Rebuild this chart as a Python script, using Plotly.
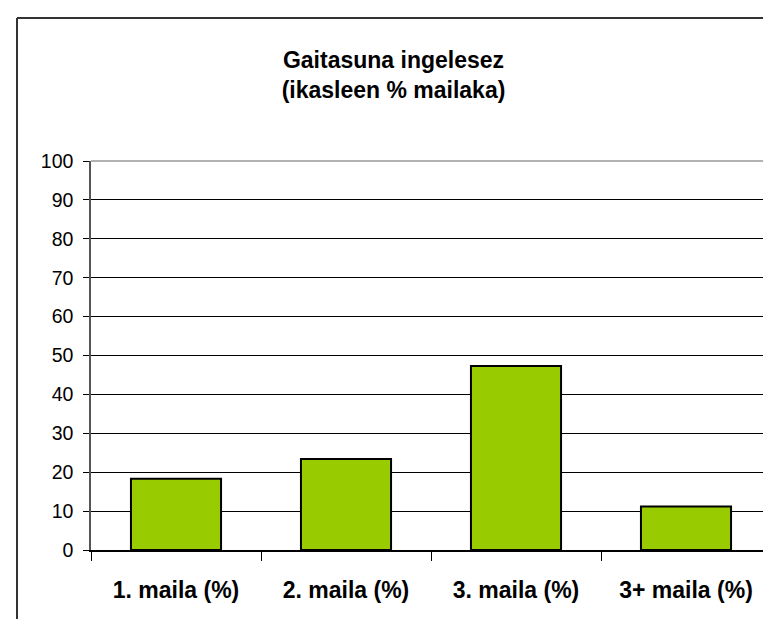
import plotly.graph_objects as go

categories = ["1. maila (%)", "2. maila (%)", "3. maila (%)", "3+ maila (%)"]
values = [18.3, 23.4, 47.3, 11.2]
title_lines = ["Gaitasuna ingelesez", "(ikasleen % mailaka)"]

W, H = 771, 619
L, R, T, B = 83, 8, 153, 77
pw, ph = W - L - R, H - T - B

def px(x):
    return (x - L) / pw

def py(y):
    return (H - B - y) / ph

fig = go.Figure(go.Bar(
    x=categories, y=values,
    marker=dict(color="#99CC00", line=dict(color="black", width=2)),
))

fig.update_layout(
    width=W, height=H,
    margin=dict(l=L, r=R, t=T, b=B),
    paper_bgcolor="white", plot_bgcolor="white",
    bargap=0.47,
    showlegend=False,
    font=dict(family="Liberation Sans, Arial, sans-serif", color="black"),
    title=dict(
        text="<b>" + title_lines[0] + "<br>" + title_lines[1] + "</b>",
        x=0.5, xanchor="center", y=1 - 60 / H, yanchor="middle",
        font=dict(size=23, color="black"),
    ),
    shapes=[
        dict(type="line", xref="paper", yref="paper", x0=0, x1=1, y0=1, y1=1,
             line=dict(color="#999999", width=1.5), layer="above"),
        dict(type="line", xref="paper", yref="paper", x0=1, x1=1, y0=0, y1=1,
             line=dict(color="#999999", width=1.5), layer="above"),
        dict(type="line", xref="paper", yref="paper", x0=px(9), x1=px(800), y0=py(10), y1=py(10),
             line=dict(color="#333333", width=2)),
        dict(type="line", xref="paper", yref="paper", x0=px(9), x1=px(9), y0=py(10), y1=py(700),
             line=dict(color="#333333", width=2)),
    ],
)

fig.update_yaxes(
    range=[0, 100], dtick=10, showgrid=True, gridcolor="black", gridwidth=1,
    showline=True, linecolor="#555555", linewidth=1.5,
    ticks="outside", ticklen=6, tickcolor="black", tickwidth=1,
    tickfont=dict(size=19.5, color="black"), ticklabelstandoff=6,
    zeroline=False,
)
fig.update_xaxes(
    showline=True, linecolor="black", linewidth=1.5,
    ticks="outside", ticklen=9, tickcolor="black", tickwidth=1,
    tickson="boundaries",
    tickfont=dict(size=23, color="black", family="Liberation Sans, Arial, sans-serif", weight="bold"),
    ticklabelstandoff=19,
)

fig.write_html("out.html")
